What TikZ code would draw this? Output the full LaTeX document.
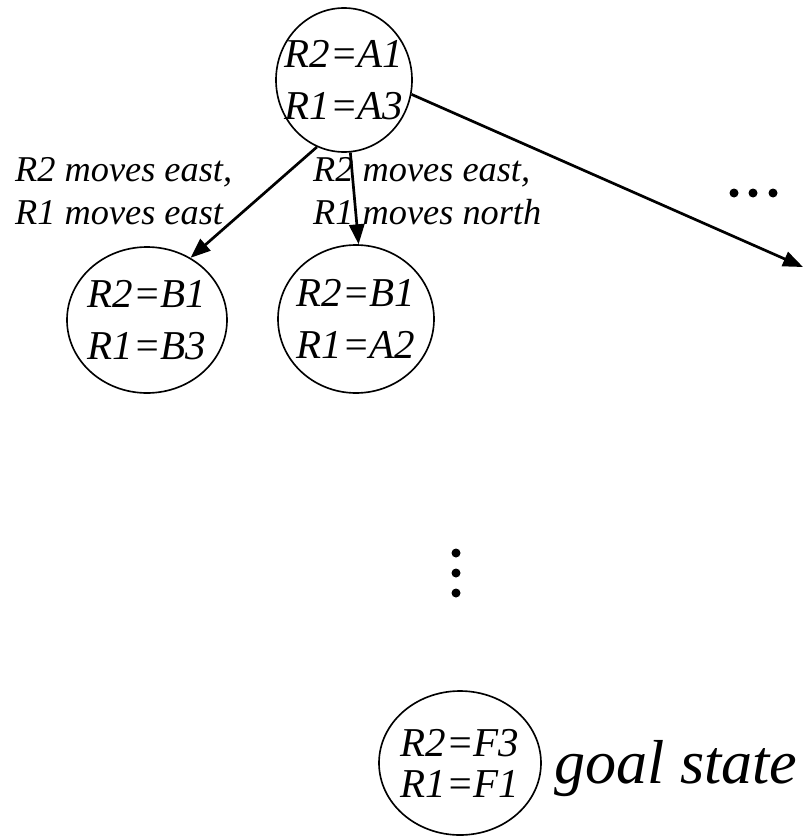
\documentclass[tikz,border=0pt]{standalone}
\usepackage{fontspec}
\setmainfont{Liberation Serif}
\usetikzlibrary{shapes.geometric,arrows.meta}

\begin{document}
\begin{tikzpicture}[
    state/.style={draw, ellipse, line width=1.4pt, inner sep=-20pt, align=center, font=\itshape\fontsize{35}{44}\selectfont},
    lbl/.style={anchor=north west, align=left, inner sep=0pt, font=\itshape\fontsize{31}{36.7}\selectfont},
    edge/.style={-{Triangle[length=17pt,width=13pt]}, line width=2.3pt}]
        \useasboundingbox (0,0) rectangle (24.12,-25.08);
        % States
        \node[state, minimum width=4.08cm, minimum height=4.32cm] (s0) at (10.32,-2.40) {R2=A1\\R1=A3};
        \node[state, minimum width=4.8cm, minimum height=4.38cm] (s1) at (4.41,-9.60) {R2=B1\\R1=B3};
        \node[state, minimum width=4.68cm, minimum height=4.44cm] (s2) at (10.68,-9.57) {R2=B1\\R1=A2};
        \node[state, minimum width=4.86cm, minimum height=4.32cm, font=\itshape\fontsize{35}{35}\selectfont] (goal) at (13.80,-22.89) {R2=F3\\R1=F1};
        \node[anchor=base west, inner sep=0pt, font=\itshape\fontsize{53}{64}\selectfont] (goaltxt) at (16.62,-23.49) {goal state};
        \coordinate (far) at (24.09,-8.01);

        % Moves
        \node[lbl] (m1) at (0.45,-4.71) {R2 moves east,\\R1 moves east};
        \node[lbl] (m2) at (9.39,-4.71) {R2 moves east,\\R1 moves north};

        \draw[edge] (s0.248) -- (s1.55);
        \draw[edge] (s0.275) -- (s2.88);
        \draw[edge] (s0.348) -- (far);

        % Dots
        \foreach \x in {22.02,22.59,23.19} \fill (\x,-5.79) circle (0.135);
        \foreach \y in {-16.59,-17.19,-17.79} \fill (13.68,\y) circle (0.135);
    \end{tikzpicture}
\end{document}
